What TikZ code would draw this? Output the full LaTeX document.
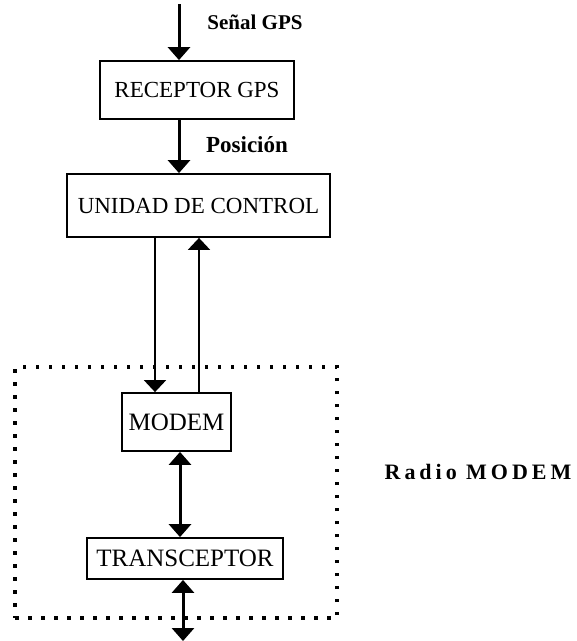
\documentclass[tikz,border=0pt]{standalone}
\usepackage{fontspec}
\setmainfont{Liberation Serif}
\usetikzlibrary{arrows.meta, positioning, calc}

\begin{document}
\begin{tikzpicture}[x=1pt, y=1pt,
    block/.style={rectangle, draw, line width=1.8pt, inner sep=0pt, align=center, font=\fontsize{23}{25}\selectfont},
    lbl/.style={inner sep=0pt, font=\fontsize{21}{23}\selectfont\bfseries},
    dotbox/.style={rectangle, draw, line width=3.5pt, dash pattern=on 3.5pt off 9.5pt, inner sep=0pt},
    arrow/.style={-{Triangle[width=22pt,length=13pt]}, line width=3pt},
    ctrl/.style={-{Triangle[width=22pt,length=12pt]}, line width=2pt},
    biarrow/.style={{Triangle[width=22pt,length=13pt]}-{Triangle[width=22pt,length=13pt]}, line width=3pt}
]
    \useasboundingbox (0,0) rectangle (577,-641);

    \node[block, minimum width=194pt, minimum height=58pt] (receptor) at (197,-90) {RECEPTOR GPS};
    \node[block, minimum width=263pt, minimum height=63pt] (control) at (198.5,-205.5) {UNIDAD DE CONTROL};
    \node[block, minimum width=109pt, minimum height=58pt, font=\fontsize{25}{27}\selectfont] (modem) at (176.5,-422) {MODEM};
    \node[block, minimum width=196pt, minimum height=41pt, font=\fontsize{25}{27}\selectfont] (transc) at (185,-558.5) {TRANSCEPTOR};
    \node[dotbox, minimum width=322pt, minimum height=251pt] (radiobox) at (176,-492.5) {};

    \node[lbl] (senal) at (255,-22) {Señal GPS};
    \node[lbl, font=\fontsize{23}{25}\selectfont\bfseries] (posicion) at (247,-145) {Posición};
    \node[lbl, font=\fontsize{22}{24}\selectfont\bfseries\addfontfeature{LetterSpace=18}] (radiolbl) at (478,-472) {Radio MODEM};

    \coordinate (gpsin) at (179,-4);
    \coordinate (txline) at (155,-300);
    \coordinate (rxline) at (199,-300);
    \coordinate (linkx) at (180,-500);
    \coordinate (antena) at (183,-641);

    \draw[arrow] (gpsin) -- (receptor.north -| gpsin);
    \draw[arrow] (receptor.south -| gpsin) -- (control.north -| gpsin);
    \draw[ctrl] (control.south -| txline) -- (modem.north -| txline);
    \draw[ctrl] (modem.north -| rxline) -- (control.south -| rxline);
    \draw[biarrow] (modem.south -| linkx) -- (transc.north -| linkx);
    \draw[biarrow] (transc.south -| antena) -- (antena);
\end{tikzpicture}
\end{document}
